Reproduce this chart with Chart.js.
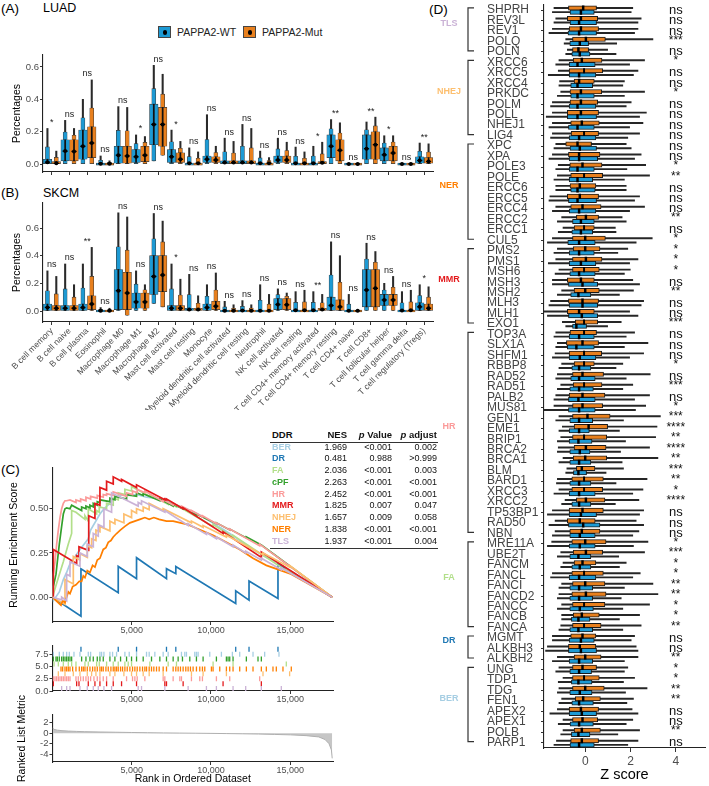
<!DOCTYPE html>
<html><head><meta charset="utf-8">
<script src="https://cdn.jsdelivr.net/npm/chart.js@4.4.1/dist/chart.umd.min.js"></script>
<style>
body{margin:0;background:#fff;width:709px;height:786px;position:relative;overflow:hidden;font-family:'Liberation Sans',Arial,Helvetica,sans-serif;}
canvas{position:absolute;}
.lbl{position:absolute;white-space:nowrap;color:#000;line-height:1;}
.cell{position:absolute;white-space:nowrap;line-height:1;font-size:9px;color:#111;}
</style></head><body>
<div class="lbl" style="left:1px;top:2px;font-size:13.5px">(A)</div>
<div class="lbl" style="left:43px;top:2px;font-size:12.5px">LUAD</div>
<div class="lbl" style="left:1px;top:186px;font-size:13.5px">(B)</div>
<div class="lbl" style="left:43px;top:187px;font-size:12.5px">SKCM</div>
<div class="lbl" style="left:1px;top:463px;font-size:13.5px">(C)</div>
<div class="lbl" style="left:429px;top:3px;font-size:13.5px">(D)</div>
<div id="legend"></div>
<canvas id="cA" width="440" height="135" style="left:0;top:45px"></canvas>
<canvas id="cB" width="440" height="215" style="left:0;top:195px"></canvas>
<canvas id="cC1" width="340" height="180" style="left:0;top:460px"></canvas>
<canvas id="cC2" width="340" height="65" style="left:0;top:640px"></canvas>
<canvas id="cC3" width="340" height="96" style="left:0;top:690px"></canvas>
<canvas id="cD" width="279" height="786" style="left:430px;top:0"></canvas>
<div id="tbl"></div>
<script>
// ---------------- DATA ----------------
const cellTypes = ['B cell memory','B cell naive','B cell plasma','Eosinophil','Macrophage M0','Macrophage M1','Macrophage M2','Mast cell activated','Mast cell resting','Monocyte','Myeloid dendritic cell activated','Myeloid dendritic cell resting','Neutrophil','NK cell activated','NK cell resting','T cell CD4+ memory activated','T cell CD4+ memory resting','T cell CD4+ naive','T cell CD8+','T cell follicular helper','T cell gamma delta','T cell regulatory (Tregs)'];
const seriesNames = ['PAPPA2-WT','PAPPA2-Mut'];

// LUAD violins (min, body low, median, body high, max)
const luadWtMin = [0,0,0,0,0,0,0.02,0,0,0,0,0,0,0,0,0,0,0,0,0,0,0];
const luadWtLo  = [0,0.02,0.03,0,0.005,0.01,0.12,0.01,0,0.01,0,0,0,0.01,0,0,0.04,0,0.03,0.02,0,0.005];
const luadWtMed = [0.012,0.08,0.11,0.002,0.055,0.045,0.245,0.045,0.005,0.03,0.01,0.01,0.005,0.025,0.005,0.005,0.11,0.001,0.095,0.057,0.001,0.022];
const luadWtHi  = [0.03,0.15,0.21,0.005,0.11,0.09,0.37,0.09,0.01,0.05,0.02,0.02,0.01,0.05,0.01,0.01,0.18,0.002,0.18,0.1,0.002,0.045];
const luadWtMax = [0.22,0.27,0.40,0.05,0.355,0.18,0.61,0.21,0.10,0.305,0.16,0.245,0.08,0.16,0.105,0.11,0.275,0.005,0.26,0.175,0.006,0.13];
const luadMutMin = [0,0,0,0,0,0,0.055,0,0,0,0,0,0,0,0,0,0,0,0,0,0,0];
const luadMutLo  = [0,0.02,0.04,0,0.005,0.015,0.11,0.01,0,0.01,0,0,0,0.01,0,0,0.02,0,0.03,0.02,0,0.005];
const luadMutMed = [0.005,0.078,0.13,0.002,0.05,0.055,0.245,0.03,0.005,0.025,0.01,0.01,0.005,0.025,0.005,0.008,0.085,0.001,0.12,0.068,0.001,0.016];
const luadMutHi  = [0.015,0.15,0.23,0.004,0.11,0.11,0.35,0.07,0.01,0.045,0.02,0.02,0.01,0.05,0.01,0.015,0.15,0.002,0.2,0.11,0.002,0.04];
const luadMutMax = [0.08,0.22,0.52,0.02,0.35,0.17,0.555,0.14,0.075,0.11,0.14,0.22,0.04,0.135,0.075,0.135,0.255,0.005,0.29,0.175,0.006,0.125];
const luadSig = ['*','ns','ns','ns','ns','*','ns','*','ns','ns','ns','ns','ns','ns','ns','*','**','ns','**','*','ns','**'];

// SKCM violins
const skcmWtMin = [0,0,0,0,0,0,0.055,0,0,0,0,0,0,0,0,0,0,0,0,0,0,0];
const skcmWtLo  = [0,0,0,0,0.01,0.02,0.12,0,0,0.005,0,0,0,0.01,0,0,0.005,0,0.03,0.04,0,0.005];
const skcmWtMed = [0.026,0.02,0.025,0.001,0.147,0.066,0.25,0.02,0.01,0.025,0.001,0.003,0.001,0.047,0.005,0.005,0.04,0.001,0.152,0.08,0.003,0.03];
const skcmWtHi  = [0.05,0.04,0.05,0.003,0.3,0.13,0.4,0.04,0.02,0.05,0.003,0.006,0.003,0.09,0.01,0.01,0.1,0.003,0.3,0.12,0.006,0.06];
const skcmWtMax = [0.29,0.34,0.34,0.025,0.71,0.29,0.705,0.34,0.265,0.19,0.07,0.075,0.19,0.16,0.14,0.14,0.5,0.12,0.49,0.2,0.14,0.19];
const skcmMutMin = [0,0,0,0,-0.03,0,0.03,0,0,0,0,0,0,0,0,0,0,0,0,0,0,0];
const skcmMutLo  = [0,0,0.01,0,0.01,0.02,0.14,0,0,0.01,0,0,0,0.01,0,0,0.005,0,0.03,0.04,0,0.005];
const skcmMutMed = [0.02,0.02,0.05,0.001,0.13,0.066,0.26,0.02,0.01,0.035,0.001,0.002,0.001,0.045,0.005,0.01,0.03,0.001,0.164,0.08,0.005,0.02];
const skcmMutHi  = [0.04,0.04,0.11,0.003,0.28,0.13,0.4,0.04,0.02,0.07,0.003,0.005,0.003,0.09,0.01,0.02,0.08,0.002,0.3,0.12,0.01,0.05];
const skcmMutMax = [0.25,0.19,0.46,0.02,0.68,0.19,0.65,0.23,0.11,0.275,0.045,0.045,0.12,0.13,0.15,0.12,0.40,0.005,0.43,0.25,0.15,0.175];
const skcmSig = ['ns','ns','**','ns','ns','ns','ns','*','ns','ns','ns','ns','ns','ns','ns','**','ns','ns','ns','ns','ns','*'];

const violinYTicks = [0, 0.2, 0.4, 0.6];

// GSEA running enrichment score [rank, ES]
const esBER = [[0,0],[53,-0.02],[430,0.03],[683,0.1],[893,0.14],[1061,0.18],[1355,0.22],[1733,0.27],[2258,0.33],[2405,0.38],[2993,0.47],[3245,0.5],[3623,0.53],[3791,0.55],[4043,0.57],[4568,0.58],[4841,0.575],[5303,0.58],[5933,0.565],[6458,0.56],[6983,0.55],[7298,0.54],[8138,0.51],[8453,0.5],[9188,0.47],[9923,0.43],[10658,0.39],[11351,0.35],[11813,0.32],[12653,0.27],[13388,0.23],[14291,0.19],[17650,0]];
const esDR = [[0,0],[1796,-0.107],[1796,0.161],[4148,0.026],[4148,0.174],[5303,0.105],[5303,0.223],[7193,0.105],[7193,0.161],[7781,0.133],[7781,0.174],[11561,-0.036],[11561,0.036],[12401,-0.017],[12401,0.092],[14228,-0.007],[14228,0.189],[17650,0]];
const esFA = [[0,0],[95,0.03],[368,0.11],[683,0.2],[998,0.3],[1208,0.36],[1208,0.49],[1481,0.48],[2048,0.44],[2048,0.46],[2258,0.43],[2258,0.5],[2783,0.47],[2783,0.49],[2951,0.48],[2951,0.51],[3413,0.5],[3413,0.53],[3833,0.52],[3833,0.56],[4148,0.55],[4148,0.59],[4568,0.58],[4568,0.61],[4988,0.6],[4988,0.625],[6143,0.57],[6143,0.58],[7298,0.525],[7298,0.535],[7823,0.51],[7823,0.52],[10133,0.4],[10133,0.41],[11393,0.34],[11393,0.35],[14753,0.15],[14753,0.16],[17650,0]];
const esCPF = [[0,0],[53,0.06],[221,0.13],[304,0.2],[430,0.3],[577,0.4],[683,0.47],[788,0.5],[893,0.505],[1103,0.5],[1208,0.52],[1838,0.49],[1838,0.51],[2111,0.5],[2111,0.515],[2363,0.505],[2363,0.52],[2573,0.51],[2573,0.53],[2825,0.52],[2825,0.54],[2993,0.535],[2993,0.55],[3623,0.54],[3623,0.56],[3938,0.55],[3938,0.57],[4673,0.555],[4673,0.58],[5303,0.57],[5303,0.59],[5723,0.575],[5723,0.585],[6773,0.545],[6773,0.555],[7613,0.515],[7613,0.525],[8201,0.5],[8201,0.505],[9083,0.465],[9083,0.47],[10343,0.415],[10343,0.42],[11183,0.38],[11183,0.385],[12233,0.335],[12233,0.34],[13178,0.295],[17650,0]];
const esHR = [[0,0],[53,0.13],[158,0.2],[263,0.3],[368,0.38],[473,0.45],[578,0.5],[683,0.53],[788,0.545],[893,0.545],[1103,0.55],[1481,0.535],[1481,0.55],[1775,0.54],[1775,0.555],[2111,0.545],[2111,0.565],[2405,0.555],[2405,0.57],[2825,0.56],[2825,0.575],[3203,0.565],[3203,0.58],[3413,0.575],[3413,0.585],[3833,0.575],[3833,0.595],[4673,0.57],[4673,0.59],[5051,0.58],[5051,0.6],[5345,0.59],[5345,0.61],[5828,0.59],[5828,0.6],[6983,0.54],[6983,0.55],[7613,0.52],[7613,0.53],[8138,0.505],[8138,0.515],[8768,0.485],[8768,0.49],[9461,0.455],[9461,0.46],[10343,0.415],[10343,0.42],[11183,0.38],[11183,0.385],[13073,0.29],[13073,0.3],[17650,0]];
const esMMR = [[0,0],[53,0],[53,0.27],[1523,0.19],[1523,0.235],[1670,0.228],[1670,0.285],[2258,0.265],[2258,0.40],[2300,0.398],[2300,0.46],[2678,0.445],[2678,0.53],[2993,0.52],[2993,0.62],[3413,0.605],[3413,0.655],[3833,0.64],[3833,0.68],[4358,0.655],[4358,0.665],[5303,0.62],[5303,0.635],[7088,0.55],[7088,0.555],[7193,0.55],[7193,0.555],[8243,0.5],[8243,0.505],[10763,0.36],[10763,0.37],[13178,0.225],[13178,0.255],[17650,0]];
const esNHEJ = [[0,0],[788,-0.04],[788,0.10],[1313,0.075],[1313,0.23],[1733,0.21],[1733,0.245],[2195,0.225],[2195,0.29],[2468,0.28],[2468,0.33],[2741,0.32],[2741,0.38],[2993,0.37],[2993,0.40],[3623,0.375],[3623,0.43],[3938,0.415],[3938,0.44],[4505,0.42],[4505,0.47],[4988,0.45],[4988,0.49],[5303,0.475],[5303,0.50],[5723,0.485],[5723,0.51],[6101,0.495],[6101,0.53],[6983,0.49],[6983,0.50],[8768,0.42],[8768,0.43],[9503,0.395],[9503,0.405],[10973,0.34],[10973,0.35],[13283,0.24],[13283,0.25],[14963,0.17],[14963,0.18],[17650,0]];
const esNER = [[0,0],[536,-0.045],[641,-0.02],[788,-0.03],[893,0.0],[998,0.03],[1103,0.02],[1271,0.06],[1481,0.07],[1691,0.09],[1838,0.09],[1943,0.12],[2048,0.11],[2195,0.15],[2363,0.14],[2531,0.18],[2678,0.17],[2825,0.21],[2993,0.22],[3203,0.27],[3371,0.28],[3518,0.31],[3686,0.32],[3833,0.34],[4043,0.36],[4295,0.38],[4568,0.40],[4883,0.42],[5198,0.43],[5513,0.44],[5828,0.45],[6101,0.44],[6395,0.45],[6731,0.44],[7193,0.43],[7613,0.43],[8075,0.42],[8558,0.41],[9083,0.39],[9608,0.37],[10133,0.35],[10973,0.31],[11813,0.27],[12653,0.22],[13493,0.18],[14123,0.16],[15068,0.13],[17650,0]];
const esTLS = [[0,0],[578,-0.015],[578,0.0],[893,-0.02],[893,0.13],[1103,0.12],[1103,0.2],[1733,0.175],[1733,0.25],[2195,0.23],[2195,0.3],[2573,0.285],[2573,0.36],[2888,0.345],[2888,0.41],[3245,0.395],[3245,0.5],[3728,0.48],[3728,0.59],[5408,0.515],[5408,0.535],[5618,0.525],[5618,0.545],[7088,0.48],[7088,0.49],[8558,0.405],[8558,0.415],[9713,0.355],[9713,0.365],[10343,0.33],[10343,0.34],[11393,0.285],[11393,0.295],[12191,0.25],[12191,0.26],[13178,0.21],[13178,0.22],[14438,0.155],[14438,0.165],[17650,0]];

// Hit positions (rank) of each gene set
const hitsDR = [1796,4148,5303,7193,7781,11561,12401,14228];
const hitsBER = [53,430,683,893,1061,1355,1733,2258,2405,2993,3098,3245,3623,3791,4043,4568,4841,5303,5933,6101,6458,6983,7298,8138,8348,8453,8978,9083,9188,9923,10658,11351,11813,12653,13388,14291];
const hitsCPF = [53,221,304,430,577,683,788,893,998,1103,1208,1838,2111,2363,2573,2825,2993,3203,3623,3938,4295,4673,4988,5303,5723,6248,6773,7193,7613,7928,8201,8663,9083,9503,10343,10973,11078,11183,11393,12233,12968,13178];
const hitsFA = [95,368,683,998,1208,1481,2048,2258,2783,2951,3413,3833,4148,4568,4778,4988,6143,7298,7823,10133,11393,14753];
const hitsNER = [536,641,788,893,998,1103,1271,1481,1691,1838,1943,2048,2195,2363,2531,2678,2825,2993,3098,3203,3371,3518,3686,3833,3938,4043,4148,4295,4421,4568,4715,4883,5051,5198,5345,5513,5681,5828,5933,6101,6248,6395,6563,6731,6983,7193,7613,7781,7928,8075,8243,8411,8558,8705,8873,9083,9293,9461,9608,10028,10133,10553,10973,11183,11393,11813,12233,12653,13178,13493,13913,14123,14543,15068];
const hitsNHEJ = [368,788,1313,1733,2195,2468,2741,2993,3623,3938,4505,4988,5303,5723,6101,6983,8768,9503,10973,13283,14963];
const hitsHR = [53,158,263,368,473,578,683,788,893,998,1103,1481,1628,1775,1943,2111,2258,2405,2615,2825,2993,3203,3413,3833,4673,5051,5198,5345,5828,6983,7088,7613,8033,8138,8768,9293,9461,10343,11183,13073];
const hitsMMR = [53,1523,1670,2258,2678,2993,3413,3833,4358,5303,7088,7193,8243,10763,13178];
const hitsTLS = [578,893,1103,1733,2195,2573,2888,3245,3728,5408,5618,7088,8558,9713,10343,11393,12191,13178,14438];

// Ranked list metric
const metricRank  = [0,100,300,600,1000,1500,2000,3000,4000,5000,6000,7000,8000,9000,10000,11000,12000,13000,14000,15000,16000,16800,17200,17450,17600,17650];
const metricValue = [1.0,0.75,0.6,0.5,0.42,0.36,0.31,0.25,0.2,0.15,0.11,0.07,0.04,0.01,-0.02,-0.06,-0.1,-0.15,-0.22,-0.3,-0.45,-0.7,-1.2,-2.0,-3.2,-4.8];
const rankTicks = [5000, 10000, 15000];

// GSEA table
const ddrNames = ['BER','DR','FA','cPF','HR','MMR','NHEJ','NER','TLS'];
const ddrNES   = ['1.969','0.481','2.036','2.263','2.452','1.825','1.657','1.838','1.937'];
const ddrP     = ['<0.001','0.988','<0.001','<0.001','<0.001','0.007','0.009','<0.001','<0.001'];
const ddrPadj  = ['0.002','>0.999','0.003','<0.001','<0.001','0.047','0.058','<0.001','0.004'];

// Panel D box plots: [lower whisker, Q1, median, Q3, upper whisker]
const genes = ['SHPRH','REV3L','REV1','POLQ','POLN','XRCC6','XRCC5','XRCC4','PRKDC','POLM','POLL','NHEJ1','LIG4','XPC','XPA','POLE3','POLE','ERCC6','ERCC5','ERCC4','ERCC2','ERCC1','CUL5','PMS2','PMS1','MSH6','MSH3','MSH2','MLH3','MLH1','EXO1','TOP3A','SLX1A','SHFM1','RBBP8','RAD52','RAD51','PALB2','MUS81','GEN1','EME1','BRIP1','BRCA2','BRCA1','BLM','BARD1','XRCC3','XRCC2','TP53BP1','RAD50','NBN','MRE11A','UBE2T','FANCM','FANCL','FANCI','FANCD2','FANCC','FANCB','FANCA','MGMT','ALKBH3','ALKBH2','UNG','TDP1','TDG','FEN1','APEX2','APEX1','POLB','PARP1'];
const mutBox = [[-1.38,-0.74,-0.09,0.5,2.1],[-1.3,-0.79,-0.19,0.55,2.47],[-1.45,-0.71,-0.19,0.59,2.33],[-0.86,-0.56,0.03,0.89,2.99],[-0.79,-0.56,-0.3,0.15,0.99],
[-1.16,-0.53,-0.15,0.74,2.62],[-1.19,-0.71,-0.04,0.77,2.33],[-1.13,-0.49,-0.27,0.4,1.73],[-1.08,-0.67,-0.19,0.73,2.62],[-1.45,-0.67,-0.19,0.55,2.03],[-1.45,-0.79,-0.19,0.59,2.7],[-1.45,-0.64,-0.15,0.62,2.55],[-1.45,-0.62,-0.04,0.59,2.4],
[-1.3,-0.86,-0.34,0.28,1.81],[-1.45,-0.74,-0.27,0.65,2.47],[-1.19,-0.68,-0.12,0.74,2.67],[-1.23,-0.64,-0.04,0.77,2.84],[-1.3,-0.67,-0.24,0.47,1.81],[-1.56,-0.79,-0.24,0.59,2.4],[-1.3,-0.64,-0.12,0.7,2.62],[-1.04,-0.39,0.03,0.59,1.63],[-0.98,-0.49,-0.04,0.4,1.33],[-1.45,-0.56,0,0.89,2.96],
[-1.23,-0.53,0,0.65,1.88],[-1.3,-0.56,0.03,0.74,2.33],[-1.16,-0.56,-0.04,0.62,1.99],[-1.45,-0.79,-0.19,0.4,2.1],[-1.04,-0.49,0,0.62,2.13],[-1.53,-0.74,-0.12,0.59,2.58],[-1.82,-0.79,-0.27,0.4,1.96],[-1.01,-0.44,-0.04,0.55,1.59],
[-1.3,-0.67,-0.04,0.5,2.18],[-1.23,-0.83,-0.12,0.59,2.77],[-1.33,-0.71,-0.04,0.73,2.58],[-1.04,-0.49,-0.04,0.4,1.66],[-1.23,-0.56,-0.12,0.81,2.87],[-1.08,-0.53,-0.04,0.74,2.1],[-1.3,-0.71,-0.12,0.87,2.84],[-1.38,-0.56,-0.12,0.77,2.67],[-1.16,-0.56,0.1,1.1,3.32],[-1.01,-0.49,0.15,0.99,3.17],[-1.08,-0.56,-0.04,0.95,3.11],[-1.19,-0.49,0.03,0.92,2.84],[-0.98,-0.53,0,0.95,3.21],[-0.81,-0.39,-0.15,0.43,1.69],[-1.23,-0.59,-0.04,0.8,2.73],[-1.16,-0.59,-0.04,0.77,2.55],[-0.89,-0.39,0.03,0.87,2.37],[-1.45,-0.71,-0.12,0.8,2.58],[-1.33,-0.79,-0.24,0.44,2.25],[-1.33,-0.68,-0.15,0.65,2.37],
[-1.48,-0.59,0,0.92,2.77],[-1.08,-0.53,0.03,0.77,2.62],[-0.98,-0.49,-0.12,0.47,1.81],[-1.45,-0.59,-0.04,0.8,2.43],[-1.04,-0.56,0,0.87,2.99],[-1.16,-0.59,0.03,0.92,3.21],[-1.04,-0.56,-0.04,0.87,2.84],[-1.04,-0.53,-0.15,0.62,2.4],[-1.08,-0.56,-0.04,0.7,2.47],
[-1.45,-0.64,-0.12,0.47,2.18],[-1.67,-0.74,-0.24,0.47,2.25],[-1.23,-0.49,0,0.7,2.33],
[-1.16,-0.56,-0.12,0.5,1.88],[-0.98,-0.56,-0.04,0.62,2.18],[-1.16,-0.56,0,0.84,2.73],[-1.04,-0.44,-0.09,0.67,2.13],[-1.23,-0.71,-0.19,0.59,2.07],[-0.98,-0.56,-0.12,0.55,2.1],[-0.98,-0.49,-0.15,0.67,2.4],[-1.27,-0.64,-0.15,0.59,2.33]];
const wtBox = [[-1.45,-0.67,-0.19,0.4,2.03],[-1.38,-0.67,-0.27,0.5,2.33],[-1.6,-0.76,-0.27,0.5,2.18],[-0.93,-0.68,-0.24,0.15,1.39],[-0.86,-0.59,-0.24,0.21,1.36],
[-1.3,-0.71,-0.34,0.44,1.96],[-1.63,-0.71,-0.27,0.47,2.13],[-1.16,-0.64,-0.34,0.33,1.66],[-1.23,-0.64,-0.34,0.4,1.73],[-1.53,-0.71,-0.34,0.47,1.81],[-1.72,-0.79,-0.34,0.5,2.4],[-1.6,-0.74,-0.34,0.4,1.96],[-1.53,-0.71,-0.27,0.47,1.88],
[-1.38,-0.67,-0.24,0.5,2.03],[-1.6,-0.71,-0.27,0.55,2.18],[-1.3,-0.71,-0.34,0.4,1.84],[-1.38,-0.71,-0.34,0.33,1.73],[-1.3,-0.64,-0.34,0.44,1.81],[-1.6,-0.74,-0.34,0.5,2.18],[-1.45,-0.71,-0.27,0.47,1.96],[-1.23,-0.56,-0.19,0.4,1.81],[-1.19,-0.59,-0.19,0.33,1.36],[-1.67,-0.77,-0.27,0.44,2.25],
[-1.38,-0.71,-0.27,0.4,1.44],[-1.63,-0.71,-0.19,0.47,1.96],[-1.33,-0.68,-0.27,0.44,1.73],[-1.45,-0.74,-0.12,0.55,2.4],[-1.23,-0.64,-0.3,0.25,1.51],[-1.6,-0.71,-0.12,0.55,2.47],[-1.67,-0.74,-0.15,0.55,2.33],[-0.86,-0.56,-0.39,0.06,0.99],
[-1.38,-0.71,-0.27,0.4,1.81],[-1.3,-0.79,-0.39,0.4,1.73],[-1.45,-0.71,-0.24,0.47,1.96],[-1.16,-0.59,-0.27,0.25,1.36],[-1.3,-0.64,-0.27,0.44,1.81],[-1.23,-0.68,-0.27,0.36,1.66],[-1.38,-0.74,-0.3,0.44,2.18],[-1.82,-0.74,-0.27,0.44,2.22],[-1.3,-0.68,-0.27,0.33,1.69],[-1.16,-0.71,-0.27,0.18,1.51],[-1.23,-0.71,-0.3,0.3,1.78],[-1.23,-0.68,-0.24,0.21,1.56],[-1.16,-0.68,-0.27,0.25,1.63],[-0.86,-0.52,-0.3,0.06,0.92],[-1.27,-0.68,-0.27,0.25,1.36],[-1.38,-0.71,-0.27,0.44,2.1],[-1.04,-0.59,-0.27,0.25,1.33],[-1.67,-0.71,-0.19,0.5,2.4],[-1.6,-0.74,-0.09,0.65,2.58],[-1.45,-0.68,-0.24,0.44,2.1],
[-1.67,-0.71,-0.24,0.44,2.13],[-1.23,-0.68,-0.3,0.25,1.48],[-1.08,-0.59,-0.24,0.25,1.51],[-1.53,-0.71,-0.27,0.47,2.1],[-1.16,-0.68,-0.27,0.33,1.73],[-1.23,-0.68,-0.27,0.33,1.59],[-1.23,-0.68,-0.24,0.36,1.66],[-1.04,-0.61,-0.3,0.21,1.51],[-1.16,-0.68,-0.3,0.33,1.66],
[-1.45,-0.71,-0.19,0.4,2.03],[-1.75,-0.74,-0.19,0.5,2.33],[-1.45,-0.71,-0.27,0.33,1.73],
[-1.3,-0.68,-0.27,0.28,1.73],[-1.19,-0.61,-0.3,0.3,1.69],[-1.23,-0.68,-0.24,0.3,1.78],[-1.16,-0.59,-0.27,0.36,1.84],[-1.56,-0.71,-0.15,0.5,2.33],[-1.19,-0.67,-0.27,0.36,1.81],[-1.08,-0.61,-0.3,0.21,1.44],[-1.38,-0.67,-0.27,0.4,1.88]];
const sigD = ['ns','ns','ns','***','ns',
 '*','ns','ns','*','ns','ns','ns','ns',
 'ns','ns','*','**','ns','ns','ns','**','ns','*',
 '*','*','*','ns','**','ns','ns','***',
 'ns','ns','ns','*','ns','***','ns','*','***','****','**','****','**','***','**','*','****','ns','ns','ns',
 '*','***','*','*','**','**','*','*','**',
 'ns','ns','**',
 '*','*','**','**','ns','ns','**','ns'];
const groupNames = ['TLS','NHEJ','NER','MMR','HR','FA','DR','BER'];
const groupFirst = ['SHPRH','XRCC6','XPC','PMS2','TOP3A','MRE11A','MGMT','UNG'];
const groupLast  = ['POLN','LIG4','CUL5','EXO1','NBN','FANCA','ALKBH2','PARP1'];
const zTicks = [0, 2, 4];

// ---------------- STYLE ----------------
const FONT = "'Liberation Sans', Arial, Helvetica, sans-serif";
const BLUE = '#1D9AD4', ORANGE = '#E8801E';
const setColors = {BER:'#A6CEE3', DR:'#1F78B4', FA:'#B2DF8A', cPF:'#33A02C', HR:'#FB9A99', MMR:'#E31A1C', NHEJ:'#FDBF6F', NER:'#FF7F00', TLS:'#CAB2D6'};
Chart.defaults.font.family = FONT;
Chart.defaults.color = '#4D4D4D';
Chart.defaults.animation = false;
Chart.defaults.responsive = false;
Chart.defaults.devicePixelRatio = 1;
Chart.defaults.events = [];
Chart.defaults.plugins.legend.display = false;
Chart.defaults.plugins.tooltip.enabled = false;

const fixW = w => s => { s.width = w; s.paddingTop = 0; s.paddingBottom = 0; s.paddingLeft = 0; s.paddingRight = 0; };
const fixH = h => s => { s.height = h; s.paddingTop = 0; s.paddingBottom = 0; s.paddingLeft = 0; s.paddingRight = 0; };
const setTicks = arr => s => { s.ticks = arr.map(v => ({value: v})); };
const grid = (len) => ({display: true, drawOnChartArea: false, drawTicks: true, tickLength: len, color: '#333', lineWidth: 1, offset: false});
const border = {display: true, color: '#222', width: 1.1};
const comma = v => String(v).replace(/\B(?=(\d{3})+(?!\d))/g, ',');

// ---------------- LEGEND (panel A) ----------------
(function(){
  const lg = document.getElementById('legend');
  [[158, BLUE, seriesNames[0], 177], [243, ORANGE, seriesNames[1], 262]].forEach(([x, c, t, tx]) => {
    const b = document.createElement('div');
    b.style.cssText = `position:absolute;left:${x}px;top:26px;width:13px;height:12px;background:${c};border:0.8px solid #444;box-sizing:border-box`;
    const d = document.createElement('div');
    d.style.cssText = 'position:absolute;left:3.5px;top:3px;width:4.5px;height:4.5px;border-radius:50%;background:#000';
    b.appendChild(d); lg.appendChild(b);
    const s = document.createElement('div');
    s.className = 'lbl'; s.textContent = t;
    s.style.cssText += `left:${tx}px;top:27px;font-size:10.5px;color:#222`;
    lg.appendChild(s);
  });
})();

// ---------------- VIOLIN PANELS ----------------
// Violins are drawn as nested floating bars: thin tail (full range), tapered shoulder, wide body, inner bar and median marker.
function violinSets(groups) {
  const sets = [];
  groups.forEach(([g, off, col]) => {
    const xs = g.med.map((_, i) => i + off);
    sets.push({type: 'bar', grouped: false, order: 6, barThickness: 1.4, backgroundColor: '#2a2a2a',
      data: xs.map((x, i) => ({x, y: [g.min[i], g.max[i]]}))});
    sets.push({type: 'bar', grouped: false, order: 5, barThickness: 4, backgroundColor: col,
      borderColor: '#3a3a3a', borderWidth: 0.6, borderSkipped: false,
      data: xs.map((x, i) => ({x, y: [g.min[i], g.hi[i] + (g.max[i] - g.hi[i]) * 0.4]}))});
    sets.push({type: 'bar', grouped: false, order: 4, barThickness: 8.5, minBarLength: 2, backgroundColor: col,
      borderColor: '#3a3a3a', borderWidth: 0.6, borderSkipped: false,
      data: xs.map((x, i) => ({x, y: [g.lo[i], g.hi[i]]}))});
    sets.push({type: 'bar', grouped: false, order: 3, barThickness: 1.1, backgroundColor: '#111',
      data: xs.map((x, i) => ({x, y: [g.lo[i], g.hi[i]]}))});
    sets.push({type: 'scatter', order: 2, pointStyle: 'line', pointRadius: 2.6, borderColor: '#000', borderWidth: 1.3,
      data: xs.map((x, i) => ({x, y: g.med[i]}))});
    sets.push({type: 'scatter', order: 1, pointRadius: 2, backgroundColor: '#000', borderWidth: 0,
      data: xs.map((x, i) => ({x, y: g.med[i]}))});
  });
  return sets;
}
function sigPlugin(sig, maxA, maxB) {
  return {id: 'sig', afterDatasetsDraw(chart) {
    const {ctx, scales: {x, y}} = chart;
    ctx.save(); ctx.fillStyle = '#222'; ctx.textAlign = 'center'; ctx.textBaseline = 'bottom';
    sig.forEach((s, i) => {
      ctx.font = '9px ' + FONT;
      ctx.fillText(s, x.getPixelForValue(i), y.getPixelForValue(Math.max(maxA[i], maxB[i])) - 1.5);
    });
    ctx.restore();
  }};
}
function violinChart(id, wt, mut, sig, yMin, yMax, padTop, xH, showLabels) {
  return new Chart(document.getElementById(id), {
    type: 'bar',
    data: {datasets: violinSets([[wt, -0.25, BLUE], [mut, 0.25, ORANGE]])},
    options: {
      layout: {padding: {left: 0, right: 7, top: padTop, bottom: 0}},
      scales: {
        x: {type: 'linear', min: -0.5, max: 21.5, offset: false,
          afterBuildTicks: setTicks(cellTypes.map((_, i) => i)), afterFit: fixH(xH),
          ticks: {display: showLabels, autoSkip: false, minRotation: 45, maxRotation: 45, padding: 1,
            font: {size: 8.6}, color: '#4D4D4D', callback: v => cellTypes[v]},
          grid: grid(3), border},
        y: {type: 'linear', min: yMin, max: yMax,
          afterBuildTicks: setTicks(violinYTicks), afterFit: fixW(43),
          ticks: {padding: 1, font: {size: 9.5}, color: '#4D4D4D', callback: v => v.toFixed(1)},
          title: {display: true, text: 'Percentages', font: {size: 10.5}, color: '#000', padding: {top: 10.7, bottom: 0}},
          grid: grid(3), border}
      }
    },
    plugins: [sigPlugin(sig, wt.max, mut.max)]
  });
}
violinChart('cA',
  {min: luadWtMin, lo: luadWtLo, med: luadWtMed, hi: luadWtHi, max: luadWtMax},
  {min: luadMutMin, lo: luadMutLo, med: luadMutMed, hi: luadMutHi, max: luadMutMax},
  luadSig, -0.049, 0.674, 10, 8, false);
violinChart('cB',
  {min: skcmWtMin, lo: skcmWtLo, med: skcmWtMed, hi: skcmWtHi, max: skcmWtMax},
  {min: skcmMutMin, lo: skcmMutLo, med: skcmMutMed, hi: skcmMutHi, max: skcmMutMax},
  skcmSig, -0.0795, 0.781, 8, 88, true);

// ---------------- GSEA PANELS ----------------
const esAll = {BER: esBER, DR: esDR, FA: esFA, cPF: esCPF, HR: esHR, MMR: esMMR, NHEJ: esNHEJ, NER: esNER, TLS: esTLS};
const drawOrder = ['TLS','NER','NHEJ','MMR','HR','cPF','FA','DR','BER'];
const rankX = (h) => ({type: 'linear', min: 0, max: 17700, afterBuildTicks: setTicks(rankTicks), afterFit: fixH(h),
  ticks: {padding: 0, font: {size: 9}, color: '#4D4D4D', callback: comma}, grid: grid(3), border});
new Chart(document.getElementById('cC1'), {
  type: 'line',
  data: {datasets: ddrNames.map(n => ({label: n, data: esAll[n].map(p => ({x: p[0], y: p[1]})),
    borderColor: setColors[n], borderWidth: 1.7, pointRadius: 0, tension: 0, order: drawOrder.indexOf(n)}))},
  options: {
    layout: {padding: {left: 0, right: 7, top: 8, bottom: 0}},
    scales: {
      x: rankX(18),
      y: {type: 'linear', min: -0.14, max: 0.73, afterBuildTicks: setTicks([0, 0.25, 0.5]), afterFit: fixW(52.5),
        ticks: {padding: 1, font: {size: 9.5}, color: '#4D4D4D', callback: v => v.toFixed(2)},
        title: {display: true, text: 'Running Enrichment Score', font: {size: 10.5}, color: '#000', padding: {top: 7.7, bottom: 0}},
        grid: grid(3), border}
    }
  }
});
const hitsAll = {TLS: hitsTLS, MMR: hitsMMR, HR: hitsHR, NHEJ: hitsNHEJ, NER: hitsNER, FA: hitsFA, cPF: hitsCPF, BER: hitsBER, DR: hitsDR};
const hitRows = ['TLS','MMR','HR','NHEJ','NER','FA','cPF','BER','DR'];
new Chart(document.getElementById('cC2'), {
  type: 'scatter',
  data: {datasets: hitRows.map((n, r) => ({label: n, data: hitsAll[n].map(h => ({x: h, y: r + 0.5})),
    pointStyle: 'line', rotation: 90, radius: 2.5, borderWidth: 1.3, borderColor: setColors[n], backgroundColor: setColors[n]}))},
  options: {
    layout: {padding: {left: 0, right: 7, top: 5, bottom: 0}},
    scales: {
      x: rankX(14),
      y: {type: 'linear', min: 0, max: 9.3, afterBuildTicks: setTicks([0, 2.5, 5, 7.5]), afterFit: fixW(52.5),
        ticks: {padding: 1, font: {size: 9.5}, color: '#4D4D4D', callback: v => v.toFixed(1)}, grid: grid(3), border}
    }
  }
});
new Chart(document.getElementById('cC3'), {
  type: 'line',
  data: {datasets: [{data: metricRank.map((r, i) => ({x: r, y: metricValue[i]})), fill: 'origin',
    backgroundColor: '#c6c6c6', borderColor: '#b0b0b0', borderWidth: 1, pointRadius: 0, tension: 0}]},
  options: {
    layout: {padding: {left: 0, right: 7, top: 25, bottom: 0}},
    scales: {
      x: Object.assign(rankX(24), {title: {display: true, text: 'Rank in Ordered Dataset', font: {size: 10.5}, color: '#000', padding: {top: 0, bottom: 0.7}}}),
      y: {type: 'linear', min: -5.5, max: 3.5, afterBuildTicks: setTicks([-4, -2, 0, 2]), afterFit: fixW(52.5),
        ticks: {padding: 1, font: {size: 9.5}, color: '#4D4D4D', callback: v => String(v)},
        title: {display: true, text: 'Ranked List Metric', font: {size: 10.5}, color: '#000', padding: {top: 15.7, bottom: 0}},
        grid: grid(3), border}
    }
  }
});

// GSEA table
(function(){
  const t = document.getElementById('tbl');
  const add = (txt, x, y, align, style) => {
    const d = document.createElement('div'); d.className = 'cell'; d.innerHTML = txt;
    d.style.top = (y - 4.5) + 'px';
    if (align === 'r') d.style.right = (709 - x) + 'px'; else d.style.left = x + 'px';
    if (style) d.style.cssText += style;
    t.appendChild(d);
  };
  const hs = 'font-weight:bold;font-size:9.5px;color:#111';
  add('DDR', 272, 434, 'l', hs); add('NES', 347, 434, 'r', hs);
  add('<i>p</i> Value', 392, 434, 'r', hs); add('<i>p</i> adjust', 437, 434, 'r', hs);
  ddrNames.forEach((n, i) => {
    const y = 447 + i * 11.75;
    add(n, 272, y, 'l', 'font-weight:bold;color:' + setColors[n]);
    add(ddrNES[i], 347, y, 'r');
    add(ddrP[i].replace('<', '&lt;').replace('>', '&gt;'), 392, y, 'r');
    add(ddrPadj[i].replace('<', '&lt;').replace('>', '&gt;'), 437, y, 'r');
  });
  [441.5, 547.5].forEach(y => {
    const l = document.createElement('div');
    l.style.cssText = `position:absolute;left:270px;top:${y}px;width:168px;height:1.2px;background:#333`;
    t.appendChild(l);
  });
})();

// ---------------- PANEL D ----------------
const boxSet = (stats, off, col) => [
  {grouped: false, order: 3, barThickness: 1.3, backgroundColor: '#262626',
    data: stats.map((b, i) => ({y: i + off, x: [b[0], b[4]]}))},
  {grouped: false, order: 2, barThickness: 4.4, backgroundColor: col, borderColor: '#1a1a1a', borderWidth: 1, borderSkipped: false,
    data: stats.map((b, i) => ({y: i + off, x: [b[1], b[3]]}))},
  {grouped: false, order: 1, barThickness: 4.4, backgroundColor: '#000',
    data: stats.map((b, i) => ({y: i + off, x: [b[2] - 0.04, b[2] + 0.04]}))}
];
const dPlugin = {id: 'dAnn', afterDraw(chart) {
  const {ctx, scales: {x, y}} = chart;
  ctx.save();
  ctx.textAlign = 'center'; ctx.textBaseline = 'middle'; ctx.fillStyle = '#111';
  const px = x.getPixelForValue(4);
  sigD.forEach((s, i) => {
    const py = y.getPixelForValue(i);
    if (s === 'ns') { ctx.font = '13px ' + FONT; ctx.fillText(s, px, py); }
    else { ctx.font = '12px ' + FONT; ctx.fillText(s, px, py - 1.2); }
  });
  groupNames.forEach((g, k) => {
    const a = genes.indexOf(groupFirst[k]), b = genes.indexOf(groupLast[k]);
    const y1 = y.getPixelForValue(a - 0.2), y2 = y.getPixelForValue(b - 0.1);
    const bx = 38;
    ctx.strokeStyle = '#333'; ctx.lineWidth = 1.2;
    ctx.beginPath(); ctx.moveTo(bx + 6, y1); ctx.lineTo(bx, y1); ctx.lineTo(bx, y2); ctx.lineTo(bx + 6, y2); ctx.stroke();
    ctx.font = 'bold 9px ' + FONT; ctx.fillStyle = setColors[g];
    ctx.fillText(g, 19, y.getPixelForValue((a + b) / 2 - 0.75));
  });
  ctx.restore();
}};
new Chart(document.getElementById('cD'), {
  type: 'bar',
  data: {datasets: [...boxSet(mutBox, -0.2, ORANGE), ...boxSet(wtBox, 0.2, BLUE)]},
  options: {
    indexAxis: 'y',
    layout: {padding: {left: 57, right: 4, top: 4.8, bottom: 0}},
    scales: {
      y: {type: 'linear', reverse: true, min: -0.5, max: 70.5, offset: false,
        afterBuildTicks: setTicks(genes.map((_, i) => i)), afterFit: fixW(57),
        ticks: {autoSkip: false, crossAlign: 'far', padding: 2, font: {size: 12}, color: '#444', callback: v => genes[v]},
        grid: grid(3), border},
      x: {type: 'linear', min: -1.82, max: 5.29, offset: false,
        afterBuildTicks: setTicks(zTicks), afterFit: fixH(38),
        ticks: {padding: 2, font: {size: 12}, color: '#4D4D4D', callback: v => String(v)},
        title: {display: true, text: 'Z score', font: {size: 14.5}, color: '#000', padding: {top: 0, bottom: 2.5}},
        grid: grid(4), border}
    }
  },
  plugins: [dPlugin]
});
</script>
</body></html>
